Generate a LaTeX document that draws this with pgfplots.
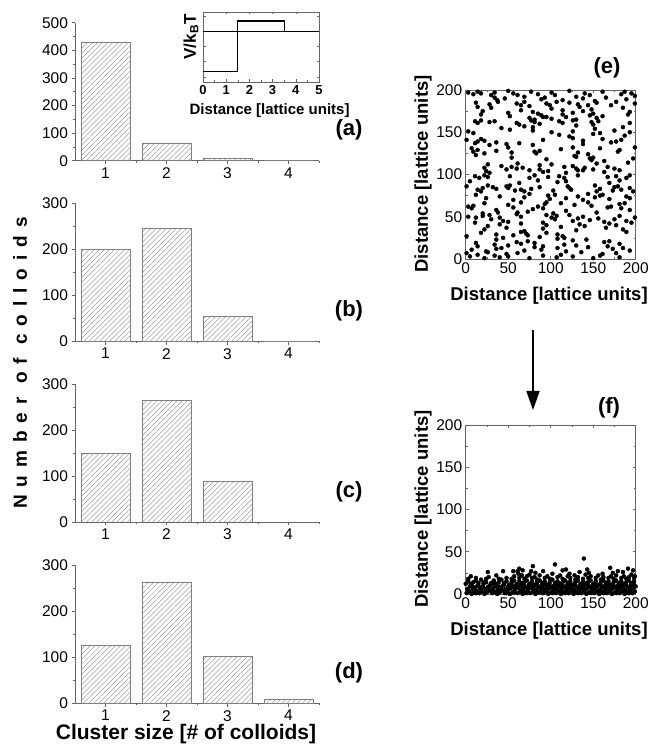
\documentclass[border=0pt]{standalone}
\usepackage{fontspec}
\setmainfont{Liberation Sans}
\usepackage{pgfplots}
\pgfplotsset{compat=1.18}
\usetikzlibrary{patterns.meta,arrows.meta}
\definecolor{axgray}{gray}{0.4}
\definecolor{bargray}{gray}{0.5}
\pgfplotsset{
  barax/.style={
    scale only axis, width=244pt, height=138pt,
    xmin=0.5, xmax=4.5, ymin=0,
    axis lines*=left, axis line style={-,axgray,line width=0.6pt},
    xtick={1,2,3,4}, minor xtick={1.5,2.5,3.5,4.5},
    minor y tick num=1, tick align=outside,
    tick style={axgray,line width=0.5pt},
    major tick length=3.5pt, minor tick length=2pt,
    ticklabel style={font=\fontsize{15.5}{15.5}\selectfont},
    /pgf/number format/assume math mode=true,
    anchor=south west,
  },
  hbar/.style={ybar, bar width=0.8, bar shift=0pt, draw=bargray, line width=0.5pt,
    pattern={Lines[angle=45,distance=3.6pt,line width=0.35pt]}, pattern color=bargray},
  scatax/.style={
    scale only axis, width=170pt, height=169pt,
    xmin=0, xmax=200, ymin=0, ymax=200,
    xtick={0,50,...,200}, ytick={0,50,...,200}, minor tick num=1,
    tick align=inside, axis line style={axgray,line width=0.6pt},
    tick style={axgray,line width=0.5pt},
    major tick length=3pt, minor tick length=2pt,
    ticklabel style={font=\fontsize{15.5}{15.5}\selectfont},
    /pgf/number format/assume math mode=true,
    anchor=south west,
  },
  dots/.style={only marks, mark=*, mark size=2pt, black},
}
\begin{document}
\begin{tikzpicture}
\useasboundingbox (0,0) rectangle (651pt,746pt);
% ---------- (a)
\begin{axis}[barax, at={(75pt,585.3pt)}, ymax=500, ytick={0,100,...,500}]
\addplot[hbar] coordinates {(1,430) (2,63) (3,9) (4,0)};
\end{axis}
% ---------- inset
\begin{axis}[scale only axis, width=116pt, height=70pt, at={(203pt,664pt)}, anchor=south west,
  xmin=0, xmax=5, ymin=-5, ymax=1.9, xtick={0,...,5}, minor x tick num=1,
  ytick={-4.5,-3,-1.5,0,1.5}, yticklabels={}, tick align=inside,
  axis line style={axgray,line width=0.6pt}, tick style={axgray,line width=0.5pt},
  major tick length=2.5pt, minor tick length=1.5pt,
  ticklabel style={font=\bfseries\fontsize{13}{13}\selectfont},
  /pgf/number format/assume math mode=true]
\addplot[black, line width=0.5pt] coordinates {(0,0) (5,0)};
\addplot[black, line width=1.3pt, const plot] coordinates {(0,-4) (1.5,1) (3.5,0) (5,0)};
\end{axis}
% ---------- (b)
\begin{axis}[barax, at={(75pt,404.7pt)}, ymax=300, ytick={0,100,200,300}]
\addplot[hbar] coordinates {(1,200) (2,246) (3,54) (4,0)};
\end{axis}
% ---------- (c)
\begin{axis}[barax, at={(75pt,224pt)}, ymax=300, ytick={0,100,200,300}]
\addplot[hbar] coordinates {(1,150) (2,264) (3,88) (4,0)};
\end{axis}
% ---------- (d)
\begin{axis}[barax, at={(75pt,42.7pt)}, ymax=300, ytick={0,100,200,300}]
\addplot[hbar] coordinates {(1,126) (2,264) (3,102) (4,9)};
\end{axis}
% ---------- (e)
\begin{axis}[scatax, at={(465.7pt,487pt)}]
\addplot[dots] table[row sep=\\] {x y\\
3 197\\ 9 195\\ 14 198\\ 18 196\\ 30 194\\ 34 197\\ 50 199\\ 56 196\\ 61 194\\ 77 198\\ 85 195\\ 101 197\\ 105 194\\ 122 199\\ 140 196\\ 146 194\\ 161 198\\ 183 195\\ 187 198\\ 195 196\\ 199 193\\
34 191\\ 37 188\\ 46 190\\ 69 192\\ 89 189\\ 93 191\\ 114 188\\ 130 192\\ 138 190\\ 152 187\\ 165 191\\ 189 189\\
12 185\\ 28 183\\ 38 186\\ 60 184\\ 65 182\\ 69 186\\ 95 184\\ 99 182\\ 107 186\\ 122 185\\ 132 183\\ 154 185\\ 171 182\\ 177 186\\ 199 184\\
14 180\\ 30 179\\ 75 181\\ 101 178\\ 134 180\\ 144 182\\ 185 179\\
20 175\\ 50 173\\ 65 176\\ 79 174\\ 114 176\\ 126 173\\ 138 175\\ 148 177\\ 193 174\\
18 171\\ 52 169\\ 85 172\\ 89 170\\ 95 168\\ 114 171\\ 146 170\\ 150 172\\ 161 169\\ 191 171\\
75 167\\ 81 165\\ 91 168\\ 101 166\\ 118 168\\ 130 165\\ 154 167\\
11 163\\ 14 161\\ 18 164\\ 28 162\\ 34 163\\ 60 161\\ 77 164\\ 81 162\\ 110 163\\ 114 161\\ 126 164\\ 148 162\\ 156 163\\ 193 161\\
63 159\\ 69 157\\ 87 160\\ 130 158\\ 150 159\\
42 155\\ 52 153\\ 79 156\\ 152 154\\ 185 156\\
3 151\\ 9 149\\ 79 152\\ 101 150\\ 126 151\\ 158 149\\ 175 152\\ 193 150\\
110 147\\ 122 145\\ 150 148\\ 187 146\\
1 141\\ 14 139\\ 18 142\\ 22 140\\ 91 141\\ 126 143\\ 138 140\\ 161 142\\ 177 139\\ 183 141\\
11 137\\ 28 135\\ 36 138\\ 48 136\\ 63 137\\ 79 135\\ 138 136\\ 171 138\\
7 131\\ 14 129\\ 50 132\\ 112 130\\ 126 132\\ 158 131\\ 181 129\\ 199 132\\
9 127\\ 22 125\\ 36 128\\ 54 126\\ 81 127\\ 83 125\\ 87 128\\ 132 126\\ 179 127\\
12 123\\ 128 122\\ 144 124\\
54 120\\ 95 118\\ 130 121\\ 146 119\\ 148 117\\ 150 120\\ 197 119\\
163 116\\ 191 114\\
26 112\\ 42 110\\ 61 113\\ 87 111\\ 101 112\\ 126 110\\ 154 113\\
22 108\\ 48 106\\ 54 109\\ 60 107\\ 67 108\\ 87 106\\ 116 109\\ 130 107\\ 132 105\\ 140 108\\ 150 106\\ 167 109\\ 175 107\\ 181 105\\
24 104\\ 28 102\\ 75 105\\ 91 103\\ 97 104\\ 118 102\\ 138 105\\ 163 103\\
11 98\\ 16 96\\ 22 99\\ 26 97\\ 52 98\\ 75 96\\ 81 99\\ 97 97\\ 110 98\\ 116 96\\ 132 99\\ 167 97\\ 177 98\\ 189 96\\ 193 99\\
5 92\\ 63 90\\ 85 93\\ 108 91\\ 118 92\\ 169 90\\ 181 93\\
1 86\\ 20 84\\ 26 87\\ 32 85\\ 48 86\\ 50 84\\ 52 87\\ 87 85\\ 120 86\\ 122 84\\ 152 87\\ 175 85\\ 179 86\\ 193 84\\
14 82\\ 18 80\\ 36 83\\ 58 81\\ 65 82\\ 69 80\\ 77 83\\ 103 81\\ 124 82\\ 154 80\\ 158 83\\ 173 81\\ 183 82\\ 197 80\\
12 76\\ 40 74\\ 75 77\\ 97 75\\ 105 76\\ 132 74\\ 144 77\\ 158 75\\ 161 76\\ 189 74\\
24 72\\ 56 70\\ 69 73\\ 99 71\\ 118 72\\ 138 70\\ 152 73\\ 169 71\\ 193 72\\
22 66\\ 50 64\\ 65 67\\ 93 65\\ 95 67\\ 112 66\\ 128 64\\ 144 67\\ 181 65\\ 187 66\\
3 62\\ 7 60\\ 9 63\\ 56 61\\ 85 62\\ 91 60\\ 148 63\\ 167 61\\ 171 62\\ 183 60\\
36 58\\ 73 56\\ 79 59\\ 118 57\\ 193 58\\
20 54\\ 28 52\\ 38 55\\ 60 53\\ 61 55\\ 103 54\\ 122 52\\ 154 55\\
3 50\\ 12 49\\ 20 51\\ 40 49\\ 65 50\\ 95 52\\ 101 49\\ 107 51\\ 138 50\\ 156 48\\ 181 51\\ 199 49\\
30 47\\ 44 45\\ 105 47\\ 126 45\\ 132 48\\ 146 46\\ 175 47\\ 189 45\\
11 43\\ 40 41\\ 50 44\\ 65 42\\ 91 43\\ 134 41\\ 163 44\\ 169 42\\ 195 43\\
26 39\\ 48 37\\ 95 40\\ 112 38\\ 140 39\\ 165 37\\ 177 40\\
22 35\\ 69 33\\ 91 36\\ 130 34\\ 185 35\\
18 31\\ 36 29\\ 65 32\\ 71 30\\ 73 28\\ 95 31\\ 108 29\\ 189 32\\
1 27\\ 44 25\\ 56 28\\ 87 26\\ 114 27\\ 116 25\\
36 23\\ 73 21\\ 108 24\\ 126 22\\ 142 23\\ 169 21\\
12 19\\ 34 17\\ 60 20\\ 65 18\\ 81 19\\ 116 17\\ 163 20\\ 181 18\\
14 15\\ 42 13\\ 50 16\\ 81 14\\ 91 15\\ 108 13\\ 130 16\\ 144 14\\ 167 15\\ 185 13\\
7 11\\ 24 9\\ 36 12\\ 69 10\\ 89 11\\ 118 9\\ 173 12\\ 193 10\\
1 7\\ 14 5\\ 26 8\\ 48 6\\ 61 7\\ 112 5\\ 136 8\\ 161 6\\ 177 7\\
5 3\\ 22 1\\ 34 4\\ 40 2\\ 50 3\\ 75 1\\ 91 4\\ 107 2\\ 126 3\\ 150 1\\ 158 4\\ 181 2\\
};
\end{axis}
% ---------- (f)
\begin{axis}[scatax, at={(465.7pt,152pt)}]
\addplot[dots] table[row sep=\\] {x y\\
1 1\\ 2 6\\ 0 12\\ 3 18\\ 4 3\\ 5 9\\ 3 15\\ 6 21\\ 7 0\\ 8 5\\ 7 11\\
10 2\\ 11 8\\ 9 14\\ 12 19\\ 13 4\\ 14 10\\ 12 16\\ 16 1\\ 17 7\\ 15 13\\
19 3\\ 20 9\\ 18 17\\ 22 0\\ 23 6\\ 21 12\\ 24 18\\ 26 26\\ 25 2\\ 26 8\\ 24 14\\
28 4\\ 29 11\\ 27 20\\ 31 1\\ 32 7\\ 30 13\\ 33 16\\ 34 3\\ 35 9\\ 33 15\\ 36 22\\
37 0\\ 38 5\\ 36 12\\ 39 18\\ 40 2\\ 41 8\\ 39 14\\ 43 4\\ 44 10\\ 42 17\\ 44 27\\
46 1\\ 47 6\\ 45 13\\ 48 19\\ 49 3\\ 50 9\\ 48 15\\ 52 0\\ 53 7\\ 51 11\\ 54 18\\ 56 27\\
55 2\\ 56 8\\ 54 14\\ 57 21\\ 58 5\\ 59 10\\ 57 16\\ 61 27\\ 61 1\\ 62 7\\ 60 12\\ 63 19\\ 62 24\\
64 3\\ 65 9\\ 63 15\\ 66 22\\ 63 30\\ 67 0\\ 68 6\\ 66 13\\ 69 18\\ 67 28\\
70 2\\ 71 8\\ 69 14\\ 72 21\\ 73 4\\ 74 10\\ 72 16\\ 75 23\\ 77 27\\
76 1\\ 77 7\\ 75 12\\ 78 19\\ 79 3\\ 80 9\\ 78 15\\ 81 20\\ 79 33\\
82 0\\ 83 5\\ 81 11\\ 84 17\\ 82 25\\ 85 2\\ 86 8\\ 84 14\\ 87 22\\ 88 4\\ 89 10\\ 87 16\\
91 1\\ 92 6\\ 90 13\\ 93 19\\ 91 27\\ 94 3\\ 95 9\\ 93 15\\ 96 21\\
97 0\\ 98 7\\ 96 11\\ 99 18\\ 100 2\\ 101 8\\ 99 14\\ 102 24\\ 103 5\\ 104 10\\ 102 17\\
106 1\\ 107 7\\ 105 13\\ 108 20\\ 105 35\\ 109 3\\ 110 9\\ 108 15\\ 111 22\\
112 0\\ 113 6\\ 111 12\\ 114 18\\ 114 28\\ 115 2\\ 116 8\\ 114 14\\
118 4\\ 119 10\\ 117 16\\ 120 21\\ 118 29\\ 121 1\\ 122 7\\ 120 13\\ 123 19\\ 122 24\\
124 3\\ 125 9\\ 123 15\\ 127 0\\ 128 5\\ 126 11\\ 129 17\\ 128 22\\
130 2\\ 131 8\\ 129 14\\ 132 20\\ 133 4\\ 134 10\\ 132 16\\ 134 26\\
136 1\\ 137 6\\ 135 12\\ 138 18\\ 139 3\\ 140 9\\ 138 15\\ 141 23\\ 139 42\\
142 0\\ 143 7\\ 141 13\\ 144 19\\ 143 29\\ 145 2\\ 146 8\\ 144 14\\ 147 21\\ 145 25\\
148 4\\ 149 10\\ 147 16\\ 151 1\\ 152 7\\ 150 12\\ 153 19\\ 154 3\\ 155 9\\ 153 15\\ 156 22\\
157 0\\ 158 5\\ 156 11\\ 159 17\\ 160 2\\ 161 8\\ 159 14\\ 162 20\\ 161 24\\
163 4\\ 164 10\\ 162 16\\ 166 1\\ 167 6\\ 165 13\\ 168 19\\
169 3\\ 170 9\\ 168 15\\ 171 21\\ 170 31\\ 172 0\\ 173 7\\ 171 11\\ 174 18\\ 173 25\\
175 2\\ 176 8\\ 174 14\\ 177 22\\ 178 4\\ 179 10\\ 177 16\\ 179 27\\
181 1\\ 182 7\\ 180 13\\ 183 19\\ 184 3\\ 185 9\\ 183 15\\ 186 21\\ 185 26\\
187 0\\ 188 5\\ 186 12\\ 189 18\\ 190 2\\ 191 8\\ 189 14\\ 192 20\\ 191 30\\
193 4\\ 194 10\\ 192 16\\ 195 23\\ 196 1\\ 197 7\\ 195 13\\ 198 19\\ 197 28\\
199 3\\ 200 9\\ 198 15\\ 199 21\\
3 4\\ 6 12\\ 9 7\\ 12 1\\ 15 10\\ 18 5\\ 21 14\\ 24 3\\ 27 9\\ 30 5\\ 33 12\\ 36 2\\ 39 9\\ 42 6\\ 45 11\\ 48 1\\
51 6\\ 54 11\\ 57 2\\ 60 8\\ 63 12\\ 66 4\\ 69 10\\ 72 1\\ 75 7\\ 78 12\\ 81 5\\ 84 10\\ 87 2\\ 90 8\\ 93 12\\ 96 5\\
99 10\\ 102 1\\ 105 6\\ 108 11\\ 111 4\\ 114 10\\ 117 1\\ 120 6\\ 123 11\\ 126 5\\ 129 10\\ 132 1\\ 135 7\\ 138 11\\ 141 5\\ 144 10\\
147 1\\ 150 6\\ 153 11\\ 156 4\\ 159 10\\ 162 1\\ 165 7\\ 168 11\\ 171 5\\ 174 10\\ 177 1\\ 180 6\\ 183 11\\ 186 4\\ 189 10\\ 192 1\\ 195 6\\ 198 11\\
};
\end{axis}
% ---------- texts
\node[font=\bfseries\fontsize{22}{22}\selectfont] at (349pt,616pt) {(a)};
\node[font=\bfseries\fontsize{22}{22}\selectfont] at (349pt,435pt) {(b)};
\node[font=\bfseries\fontsize{22}{22}\selectfont] at (349pt,254pt) {(c)};
\node[font=\bfseries\fontsize{22}{22}\selectfont] at (349pt,73pt) {(d)};
\node[font=\bfseries\fontsize{22}{22}\selectfont] at (607pt,678pt) {(e)};
\node[font=\bfseries\fontsize{22}{22}\selectfont] at (609pt,338pt) {(f)};
\node[rotate=90, font=\bfseries\fontsize{19}{19}\selectfont\addfontfeatures{LetterSpace=42}] at (20pt,383pt) {Number of colloids};
\node[anchor=base, font=\bfseries\fontsize{21}{21}\selectfont] at (186pt,6pt) {Cluster size [\# of colloids]};
\node[anchor=west, font=\bfseries\fontsize{15}{15}\selectfont] at (186pt,635pt) {Distance [lattice units]};
\node[rotate=90, font=\bfseries\fontsize{17}{17}\selectfont] at (191pt,709pt) {V/k\textsubscript{B}T};
\node[font=\bfseries\fontsize{18.5}{18.5}\selectfont] at (549pt,450pt) {Distance [lattice units]};
\node[rotate=90, font=\bfseries\fontsize{18.5}{18.5}\selectfont] at (423pt,572pt) {Distance [lattice units]};
\node[font=\bfseries\fontsize{18.5}{18.5}\selectfont] at (549pt,115pt) {Distance [lattice units]};
\node[rotate=90, font=\bfseries\fontsize{18.5}{18.5}\selectfont] at (423pt,237pt) {Distance [lattice units]};
\draw[line width=1.8pt, -{Triangle[length=19pt,width=13pt]}] (533pt,416pt) -- (533pt,336pt);
\end{tikzpicture}
\end{document}
